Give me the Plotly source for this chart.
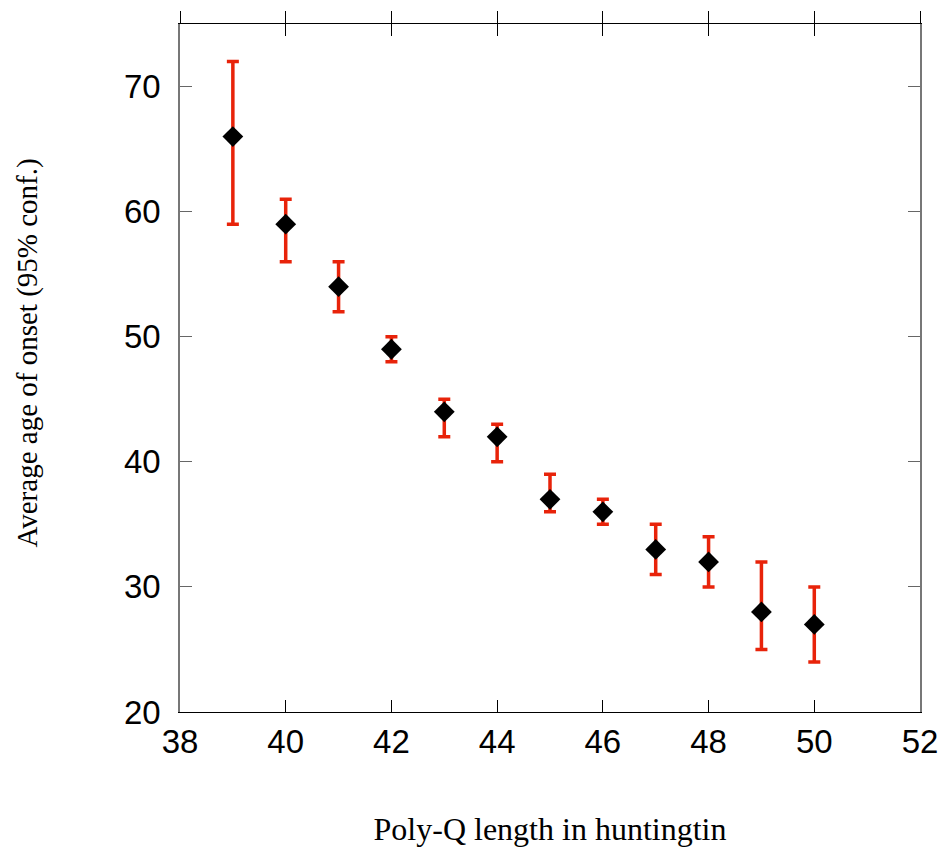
import plotly.graph_objects as go

polyq = [39, 40, 41, 42, 43, 44, 45, 46, 47, 48, 49, 50]
onset = [66, 59, 54, 49, 44, 42, 37, 36, 33, 32, 28, 27]
upper = [72, 61, 56, 50, 45, 43, 39, 37, 35, 34, 32, 30]
lower = [59, 56, 52, 48, 42, 40, 36, 35, 31, 30, 25, 24]

err_plus = [u - v for u, v in zip(upper, onset)]
err_minus = [v - l for v, l in zip(onset, lower)]

fig = go.Figure()
fig.add_trace(go.Scatter(
    x=polyq, y=onset, mode="markers",
    marker=dict(symbol="diamond", size=16, color="black"),
    error_y=dict(type="data", symmetric=False, array=err_plus, arrayminus=err_minus,
                 color="#e8230a", thickness=3.5, width=6),
    showlegend=False,
))
# dummy trace for top axis
fig.add_trace(go.Scatter(x=[38, 52], y=[20, 20], xaxis="x2", mode="markers",
                         marker=dict(opacity=0), showlegend=False, hoverinfo="skip"))

fig.update_layout(
    width=950, height=852,
    margin=dict(l=180, r=30, t=21, b=140),
    plot_bgcolor="white", paper_bgcolor="white",
    font=dict(family="Liberation Sans, Arial", size=33, color="black"),
    xaxis=dict(range=[38, 52], tickvals=[38, 40, 42, 44, 46, 48, 50, 52],
               ticks="inside", ticklen=12, tickwidth=1.3, tickcolor="black",
               showline=True, linecolor="black", linewidth=1.3, mirror="ticks",
               showgrid=False, zeroline=False,
               title=dict(text="Poly-Q length in huntingtin",
                          font=dict(family="Liberation Serif, Times New Roman", size=32),
                          standoff=58)),
    xaxis2=dict(range=[38, 52], overlaying="x", side="top",
                tickvals=[38, 40, 42, 44, 46, 48, 50, 52],
                ticks="outside", ticklen=12, tickwidth=1.3, tickcolor="black",
                showticklabels=False, showgrid=False, zeroline=False, showline=False),
    yaxis=dict(range=[20, 75], tickvals=[20, 30, 40, 50, 60, 70],
               ticks="inside", ticklen=12, tickwidth=1.3, tickcolor="#666",
               showline=True, linecolor="#777", linewidth=1.6, mirror="ticks",
               showgrid=False, zeroline=False, ticklabelstandoff=11),
    annotations=[dict(text="Average age of onset (95% conf.)", textangle=-90,
                      xref="paper", yref="paper", x=0, y=0.521, xshift=-152,
                      xanchor="center", yanchor="middle", showarrow=False,
                      font=dict(family="Liberation Serif, Times New Roman", size=29))],
)

fig.write_html("out.html")
